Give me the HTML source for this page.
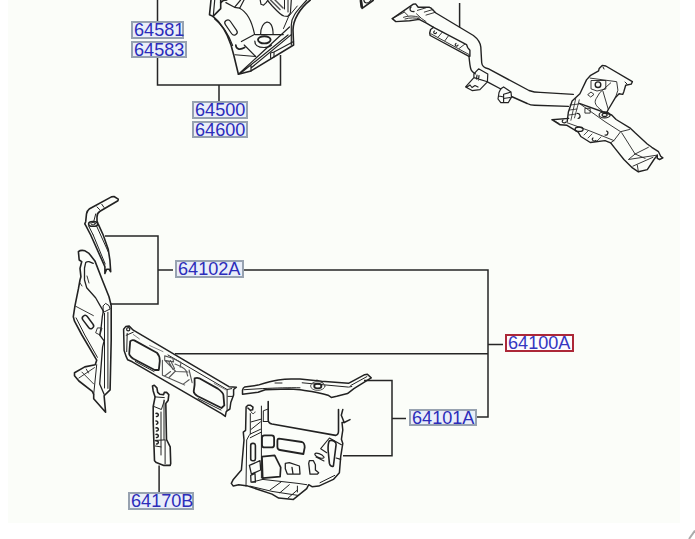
<!DOCTYPE html>
<html><head><meta charset="utf-8">
<style>
html,body{margin:0;padding:0;width:695px;height:539px;overflow:hidden;background:#fff;}
#bg{position:absolute;left:8px;top:0;width:672px;height:523px;background:#fbfdf9;}
svg{position:absolute;left:0;top:0;}
.lb{position:absolute;box-sizing:border-box;border:2px solid #97a2b0;background:#e9eef9;color:#2c2cba;font-family:"Liberation Sans",sans-serif;font-size:18.1px;line-height:15.5px;text-align:left;padding-left:1px;white-space:nowrap;}
.red{border:2px solid #ac2838;background:#fdfcfe;color:#3636c0;}
</style></head><body>
<div id="bg"></div>
<svg width="695" height="539" viewBox="0 0 695 539">
<g fill="none" stroke="#262626" stroke-width="1.5">
<!-- connectors -->
<path d="M157.5 0V21M157.5 57V85H158H280.5V55M219 85V101"/>
<path d="M105 236H158V304H110M158 270H173M244 270H488V417H477M175 353.8H488M488 344.5H503"/>
<path d="M364 380.4H392V455.7H343M392 418.4H406"/>
<path d="M159.1 465.4V492"/>
<path d="M459.6 3V27.4"/>
<path d="M695 530.5L689 539" stroke="#aaa" stroke-width="2"/>
</g>
<!-- PART A top center -->
<g fill="none" stroke="#222" stroke-width="1.6" stroke-linejoin="round" stroke-linecap="round">
<path d="M211,0 L209.5,14.7 L213,16.4 C220,22 226,30 231,45 L233.8,55.3 L238.4,74.3 L251,70.9 L293.6,45 L293,30 C293,20 300,8 310.3,0"/>
<path d="M214.7,0 L213.4,14.7" stroke-width="1.2"/>
<path d="M214.5,18.8 C221,24 228,33 232.6,45.5" stroke-width="1.2"/>
<path d="M220.7,0 V8.6 L213,16.4"/>
<path d="M220.7,2.6 Q223,0 226.8,0"/>
<path d="M225.9,2.6 L234.5,7.3 L239.7,8.2 M234.5,7.3 L240.6,0 M239.7,8.2 L244,0" stroke-width="1.2"/>
<path d="M239.7,8.2 C247,12 252,22 254.4,33.7" stroke-width="1.2"/>
<rect x="228" y="19" width="6" height="17" rx="3" transform="rotate(-35 231 27.5)" stroke-width="1.2"/>
<path d="M241.4,41.5 L254.4,34.5 L283.3,34.6" stroke-width="1.2"/>
<path d="M260.6,34.5 C260.6,20 273,16 273.1,34.5" stroke-width="1.2"/>
<ellipse cx="264.3" cy="39.8" rx="6.3" ry="3.6" stroke-width="1.9"/>
<path d="M254.8,41 C254.8,46 259,47.5 264,47.5 C268,47.5 270,46.5 271.5,45" stroke-width="1.2"/>
<path d="M235.8,45 C236,49 239.5,50.5 244.7,47.5" stroke-width="1.7"/>
<path d="M235,54.7 L255.7,56.5 L244.2,45" stroke-width="1.1"/>
<path d="M238.4,74.3 L289.5,27 M251,68 L291.3,34.6 M251,65.7 V70.9 M241.5,72.5 L288,35" stroke-width="1.2"/>
<path d="M274,51.9 L293.6,41.5 M270.6,53 V58 M270.6,53 L274,51.9 V57" stroke-width="1.1"/>
<path d="M306.8,0 C298,10 291.3,16 291.3,25 V45" stroke-width="1.2"/>
<path d="M297.3,6 L288.7,16.4 L283.5,28.5" stroke-width="1"/>
<path d="M260.2,0 L261,4.3 L263.6,5.2 L266.2,2.6 L268,0" stroke-width="1.2"/>
<path d="M268,1 L272.3,6 C276,10 280.9,15.5 284,16 L287.8,16.4 L290.4,13 L291.3,0" stroke-width="1.2"/>
<path d="M270.5,0 L280,9.5 M275,0 L283,8" stroke="#555" stroke-width="1.5"/>
<path d="M284.5,0 V9 M288,0 V12" stroke-width="1"/>
</g>
<!-- top small piece -->
<g fill="none" stroke="#222" stroke-width="1.7" stroke-linejoin="round">
<path d="M361,0 L362.1,8.4 L373.7,0"/>
<path d="M360.8,0 L361.8,7.5" stroke-width="2.6"/>
<path d="M363.8,0 Q364.2,3.2 367,3 Q369.5,2.6 371.2,0" stroke-width="1.2"/>
</g>
<!-- PART B crossmember -->
<g fill="none" stroke="#222" stroke-width="1.4" stroke-linejoin="round" stroke-linecap="round">
<path d="M392.3,18.6 L413,4.3 L415.6,3.9 L418.2,7.3 L429.5,7.3 L431.2,8.2 L435.9,13 L473.4,35.5 C478,39 480.3,42 480.8,47 L481.7,62.7 C482,66 485,68 488.2,68.7 L529,90.5 C533,92 537,92.4 540.2,92.4 L573.3,94.4"/>
<path d="M392.3,18.6 L395.8,21.6 L409.6,20.7 L419.1,19.4 L426,22.9 L433.6,27.3"/>
<path d="M393.2,18.1 L404.4,12.1 M404.4,12.1 L407.9,15.5 M417.4,10.4 L426,7.8 M416.5,13.8 L421.7,18.6 L426,21.6 M424.3,12.1 L432.9,9.5 M426,15.1 L434.6,12.5 M403.5,17.3 C408,15.5 414,15.5 419.1,17.3 M405,19 C410,17.5 415,17.5 420,19" stroke-width="0.9"/>
<path d="M411,7 C409,9 410,12 414,11.5" stroke-width="1.3"/>
<path d="M433.6,27.3 L466.5,44.6 L467.7,47.6 L469.9,50.2 L469.9,56.3 L469,56.3 L430.2,35.5 L429.7,33 L430.6,29.5 Z"/>
<path d="M431,33.8 L469,54.5 M438.4,36.8 L442.3,32.1 M444.9,40.7 L448.7,35.5 M459.1,48.5 L464.7,44.2" stroke-width="0.9"/>
<path d="M434.5,31 A1.4,1.4 0 1 0 436.5,32.5 M456,43.5 A1.4,1.4 0 1 0 458,45" stroke-width="1.2"/>
<path d="M469,56.3 C469.5,62 470,66 470.6,68.2 C471,71 473,72.5 475.3,73.8"/>
<path d="M473.9,73.9 L478.6,68.8 L487.8,73.9 L487.4,81.8 L479.9,89.7 L472.1,90.6 L465.6,86.9 L473.9,77.6 Z M473.9,77.6 L487.4,81.8 M477,75 L476.5,79 M479,75.5 L478.5,80 M467,87 L470,85 L472,87.5 L475,85.5 L478,87" stroke-width="1.2"/>
<path d="M487.4,81.8 L500.8,89 M511.5,96.5 L527.2,103.5 C530,105 532,105.3 534.6,105.3 L568.4,106.4"/>
<path d="M500.8,88.8 L503.6,86.9 L511,92 L511.5,97.1 L508.2,102.7 L500.8,102.7 L498,99 L499,92.5 Z M503.6,94.3 L511,92 M503.6,94.3 L503.6,101.5 M499,96 L503.6,97 M503.6,98.5 L510,97.5" stroke-width="1.2"/>
<!-- tower -->
<path d="M567.2,121.5 L568.4,111.9 L572.1,101 L579.9,93.8 L586.5,79.9 L590.2,75.7 L598.6,70.9 L599.2,68.4 L602.2,65.4 L605.8,66 L632.4,81.7 L631.2,84.1 L625.7,85.3 L623.9,91.4 L622.7,94.4 L619.1,93.8 L615.5,97.4 L608.3,109.5 L606.4,113.1"/>
<path d="M590.2,78.1 L616.7,81.7 L617.9,90.2 L615.5,97.4 M591.4,80.5 L605.8,80.5 L605.8,89 L597,91 L591.4,89 Z M610.7,82.9 L599.8,92.6 L596.2,98.6 C594,102 595,106 602.2,110.7 M603,91.4 L608.3,109.5" stroke-width="0.9"/>
<circle cx="598" cy="84.7" r="2.8" stroke-width="1.4"/>
<path d="M588,94.4 L591,92 L594,94.4 L591,96.8 Z M585.3,108.3 L590.2,108.3 L590.2,113.1 L585.3,113.1 Z" stroke-width="0.9"/>
<path d="M575.7,98.6 L570.9,120.3 M579.3,99.8 L574.5,117.9 M570,105 L579,104 M569.5,110 L577,109 M569,115 L576,114" stroke-width="0.8"/>
<path d="M603,67 L604,69 M625,82 L627,84" stroke-width="1"/>
<!-- duct -->
<path d="M551.9,119.7 L568.7,118.4 M551.9,119.7 L560.1,124.8 L567,125.3 L578.2,132.2 L580.8,136.5 L590.3,142.5 L605,140.6 L610.6,142.8 L615,148.4 L623.9,159.5 L631.7,167.3 L638.4,171.8 L647.3,169.6 L654,159.5 L657.3,155.1 M579.3,103.4 L611.7,115 L616.1,119.5 L630.6,128.4 L635.1,132.8 L647.3,144 L651.8,147.3 L658.5,151.7 L659.6,154 L660.7,156.2 L662.9,157.9 L659.6,159.5 L657.3,158.4 L657.3,155.1"/>
<path d="M553.2,120.1 L559.2,123.5 M567,122.7 L590,131 L605,137 L613.9,140.6 M579.3,103.4 L605,121.7 L620.6,131.7 L629.5,129.5 M620.6,131.7 L613.9,140.6 L610.6,142.8 M621.7,132.8 L635.1,154 L648.4,147.3 M635.1,154 L628.4,159.5 L657.3,155.1 M635.1,154 L645.1,158.4 M632.8,166.2 L652.9,157.3 M637.3,165.1 L638.4,171.8" stroke-width="0.9"/>
<ellipse cx="604.6" cy="114.9" rx="5.5" ry="3" stroke-width="1.2"/><ellipse cx="604.6" cy="114.9" rx="2.5" ry="1.5" stroke-width="1.2"/>
<ellipse cx="579.1" cy="129.2" rx="4" ry="2.2" stroke-width="1.4"/>
<path d="M606.5,131 A2,2 0 0 1 605,135 M563,120 A2,1.6 0 1 0 566,122 M577,113.5 A2,2 0 0 1 578,118.5 M593,138 A2,1.5 0 1 0 596,140.5" stroke-width="1.2"/>
<path d="M584,135 L588,131 M588,138 L592,134 M597,141 L601,137" stroke-width="0.8"/>
</g>
<!-- PART C upper pillar -->
<g fill="none" stroke="#222" stroke-width="1.5" stroke-linejoin="round" stroke-linecap="round">
<path d="M111.4,196.9 L114,196.5 L118.3,199.1 L117.9,200.8 L100,211.3 C98,212.5 97,214 97,217 L97,220.9 L97.9,223.5 L98.7,225.2 L103.2,235 L108.2,249.2 L109.9,260.1 L110.7,271.8 L109.1,269.3 L106.6,269.3 L104.9,273.4 L104.9,266.7 L90.7,235 L86.1,226.1 L84.8,223.9 L85.7,221.7 L86.5,213.9 C87,211 88,210 89.6,208.7 Z" stroke-width="1.6"/>
<path d="M93.2,235 L105.2,264 M96.6,226.1 L108.2,251.7 M88.7,226.1 L93.2,235 M95.7,213.9 L93.9,220.9 M97,206.9 L99.6,209.6 M101.8,204.3 L104,207.4" stroke-width="1"/>
<ellipse cx="93.1" cy="223.9" rx="4.5" ry="2.4" stroke-width="1.6"/>
<ellipse cx="93.1" cy="223.7" rx="2.2" ry="1.2" stroke-width="1"/>
</g>
<!-- PART D lower pillar -->
<g fill="none" stroke="#222" stroke-width="1.5" stroke-linejoin="round" stroke-linecap="round">
<path d="M78.4,251.7 C80,250.3 83,250.3 85,250.8 L89,253.4 L94.9,260.9 L102.3,280 L109,296.7 L111.2,305.6 L111.2,340 L110.1,389.9 L104.1,395.8 L105.6,412.2 L93.7,398.8 L93.7,394.3 L92.3,391.4 L78.9,381 L74.5,375.8 L74.5,372.8 L84.8,366.9 L95.2,364.7 L96.7,360.2 L81.9,335 L74.5,321.2 L73.3,316.7 L75,305.6 L78.4,288.9 L80,280 L80.9,276.7 L80,268.4 L81.7,261.7 L79.2,260 Z" stroke-width="1.6"/>
<path d="M85.7,262.6 C87,261.5 88,261.5 89,261.7 L93.2,263.4 M85.7,262.6 L84.5,268 L84.5,280 L86.7,287.8 L95.6,297.8 L100.1,305.6 L103.4,311.2 L102.3,316.7 L101.2,326.8 L99.7,335 L104.1,340.9 L102.6,346.9 L99.7,384 L104.1,394.3" stroke-width="1.3"/>
<path d="M76.1,317.9 L84.8,335 L97.4,357.3 M96.7,364.7 L93.7,394.3 M104.5,313.4 V388 M107.9,312.3 V388.4 M103.4,305.6 L105.6,303.4 L109,305.6 L110.1,309 L103.4,312.3 Z" stroke-width="1"/>
<path d="M75.6,306.2 L93.4,315.6 M78.9,378 L94.5,367.6 M81.9,372.1 L93.7,384 M86.3,369.1 L88.5,373 M80,283 L82,286 M87,276 L89,283" stroke-width="0.9"/>
<rect x="85.2" y="314.5" width="5.5" height="15" rx="2.7" transform="rotate(-37 88 322)" stroke-width="1.5"/>
<path d="M97.8,327.9 L102,328 L100,335 L96,333 Z" stroke-width="0.9"/>
</g>
<!-- PART E center panel -->
<g fill="none" stroke="#222" stroke-width="1.5" stroke-linejoin="round" stroke-linecap="round">
<path d="M123.6,329.2 L125.7,326.6 L129.2,326.1 L133.3,330.2 L229,386.7 L236.4,387.2 L233.6,389.5 L233.6,395 L230.8,402.5 L229.9,409 L227.1,410.8 L226.2,411.7 L225.3,416.4 L221.5,413.6 L132.3,361.8 L127.7,359.8 L126.2,356.7 L124.1,350.6 Z"/>
<path d="M168,355 L227.1,389.5 L231.7,388.6 M227.1,389.5 V410.8 M228,396.4 H232.7 M127.2,333.3 L126.7,351.6 M126.2,335.3 L133.3,332.2" stroke-width="1"/>
<circle cx="128.2" cy="329.2" r="1.6" stroke-width="1.2"/>
<path d="M130.2,341.4 C131,340.5 133,340 134.3,340.4 L156.8,352.7 C159,355 159.8,357 159.8,360.8 L158.8,370 L154.7,370 L133.3,358.8 C131,357 129.2,355.5 129.2,353.7 Z" stroke-width="1.8"/>
<path d="M135.3,361.5 L154,371.5" stroke-width="1"/>
<path d="M194.6,378.3 C196,377.8 198,377.8 199.3,378.3 L217.8,388.6 C221,391 223.4,393 223.4,395 L224.3,405.3 L221.5,408 L197.4,396 C195,394.5 193.7,393 193.7,391.3 L194.6,384.8 Z" stroke-width="1.8"/>
<path d="M198,398.5 L221,410" stroke-width="1"/>
<path d="M139.4,338.9 L133.3,334.5 M149.6,345.5 L163,351.6 M214.1,383.5 L226,390" stroke="#777" stroke-width="0.9"/>
<path d="M164.7,355.9 L172.8,358.2 L173.6,361.9 L164.7,360.4 Z M174.3,358.9 L181,362.6 L180.2,367.1 M162.4,360.4 L162.4,375.2 L184.7,384.9 M189.1,370 L192.1,382.7 M164.7,376 L170.6,371.5 M169.1,377.5 L175,371.5 M183.2,384.1 L189.1,379.7 M164.7,360.4 L175.8,371.5 L188,372 M175,364.1 C180,366 184,368 186.2,370.8 L187.7,376 M168.4,361.1 L172.8,369.3 M170.5,360.5 L174.5,368.5" stroke-width="1.1" stroke="#555"/>
</g>
<!-- PART F bracket 64170B -->
<g fill="none" stroke="#222" stroke-width="1.5" stroke-linejoin="round" stroke-linecap="round">
<path d="M152.5,386.1 L154.3,385.3 L156.9,387.9 L157.7,392.4 L159.9,394.3 L163.6,394.6 L164.3,392.4 L166.6,392.4 L168.8,394.6 L168.1,400.6 L165.8,403.5 L166.5,439.5 L170.2,446.9 L170.7,463.6 L170.2,465.4 L163.8,465.4 L156.3,462.6 L154.5,460.8 L153.2,422 L153.2,406.5 L155.1,396.9 L153.2,390.9 Z" stroke-width="1.6"/>
<path d="M155.1,396.9 L164.3,397.6 M153.9,406.5 L161.4,409.5 L164.3,400.6 M164,400 V439.5 M165.1,440.4 V463.6 M155,440.4 L165.1,439.9 M155.4,446 L161,446.9 M161,412 V455" stroke-width="1"/>
<path d="M156,413.5 A1.6,1.6 0 1 1 156.5,416.5 M156,421 A1.6,1.6 0 1 1 156.5,424.2 M156,428 A1.6,1.6 0 1 1 156.5,431 M156,434.5 A1.6,1.6 0 1 1 156.5,437.5 M156,441 A1.6,1.6 0 1 1 156.5,444" stroke-width="1.5"/>
</g>
<!-- PART G bottom bar -->
<g fill="none" stroke="#222" stroke-width="1.5" stroke-linejoin="round" stroke-linecap="round">
<path d="M242.5,390.2 C243,388 243.5,387.5 244.5,387.1 L258.1,385.1 C265,383 272,381 278.3,380.1 C285,379 290,379 293.4,379.1 L300,379 L321.6,381.2 L348.5,383.3 L364.7,374.7 L367.4,374.2 L371.2,377.9 L353.9,388.7 L347.5,393.6 L336.7,396.3 L331.3,397.4 L328,395.2 C318,392 308,391 300,389.8 C295,389.3 292,389.1 288.4,389.1 L265.2,389.7 L258.1,392.2 L242.5,394.2 Z"/>
<path d="M244,389.7 L262.2,388.6 C275,388 290,387.5 300,387.8 M302.2,382.8 L348.5,387.1 L351.8,386.5 M350.7,385.5 L366.9,376.6 M275,383 L282,383 M317,380 L323,383" stroke-width="1"/>
<ellipse cx="317.8" cy="386" rx="7.2" ry="4.4" stroke-width="1" stroke="#555"/>
<ellipse cx="317.8" cy="386" rx="3.6" ry="2.4" stroke-width="1.8"/>
</g>
<!-- PART H bottom panel -->
<g fill="none" stroke="#222" stroke-width="1.5" stroke-linejoin="round" stroke-linecap="round">
<path d="M246.1,407.1 L247.9,405.2 L250.3,405.2 L253,407.1 L252.6,409.8 L250.3,410.3 L247.9,408 M246.1,407.1 L245.6,430.3 L243.3,432.1 L244,440 L241.4,470 L233.3,479.4 L231.3,483.4 L233.3,486.1 L238.7,484.7 L248,486.1 L272,494.1 L278.7,498.1 L293.4,499.4 L306.7,488.7 L308.7,484.7 L312,486.7 L318.7,486.1 L333.4,479.4 L339.4,472.7 L340.7,456.7 L342.8,443.4 L341.4,439.3 L342.8,430 L342,422.5 L344.2,422.5 L341.3,415.3 L342.8,409.5"/>
<path d="M344.2,422.5 L350,419.6"/>
<path d="M268.2,401.6 V420 Q268.2,423.2 272,424 L335.6,435.4 Q338.5,435 338.5,431.1 V409.5" stroke-width="1.6"/>
<path d="M261.4,406.1 V478 M250.3,413.6 L250.3,434 L248.9,435.8 L246.7,440 L246,486.1 M263.3,421.5 V410.8 L268.2,409 M263.3,421.5 L268.2,421.5 M251.2,421.9 L261.4,419.1 M251.2,429.3 L260.5,421.9 M250.3,434 L260.5,429.3 M250.3,437.7 L261.4,432.1 M251,411.7 C252,414 254,414.5 255,412" stroke-width="1"/>
<rect x="250.7" y="443.4" width="4.7" height="17.3" rx="2" stroke-width="1.6"/>
<path d="M249.4,465.4 L260,460.7 L260.7,470 L251.4,474.1 Z M250.7,475.4 L255,473.5 L255.4,482.1 L251,482 Z" stroke-width="1.3"/>
<rect x="262" y="435.3" width="12.1" height="12.1" rx="2.5" stroke-width="1.8"/>
<path d="M279,438.7 L302,442 Q304.7,443 304.7,447.4 L303.4,454 L280,450 Q277.4,449.5 277.4,447 V441 Q277.4,438.7 279,438.7 Z" stroke-width="1.8"/>
<path d="M262,456.7 L274.7,455.4 L280.7,467.4 L280.1,476.7 L262.7,478.1 Z" stroke-width="1.7"/>
<path d="M285.3,463.4 L289.3,462.7 L299.4,466 L300,474.1 L287.3,474.1 L285.3,468.7 Z M292,467.4 L293,474" stroke-width="1.3"/>
<path d="M309.4,460.7 L313.4,460.7 L315.4,464.7 L315.4,470 L318.7,472.7 L317.4,474.1 L310,474.1 L308.7,463.4 Z" stroke-width="1.3"/>
<path d="M329.4,440.7 C333,439.5 336.5,442 336.1,444.7 L333.4,466 C332,467 330,466 329.4,463.4 L328.1,450 C328,446 328.5,442 329.4,440.7 Z" stroke-width="1.6"/>
<path d="M320.7,448.7 L329.4,438 L341.4,444.7 M320.7,448.7 L326.7,452.7 M336.1,458 L340.7,459.4 M314.7,454 C316,452 322,454 324,457 C325,459.5 316,458 314.7,454 Z M316,457 L324,461" stroke-width="1.1"/>
<path d="M262.7,479.4 L298,483.4 L306.7,484.7 M252,482.1 L262.7,479.4 M250,486.1 L272,491.4 L298,495.4 M280,492.7 L289.3,484.7 M288,498.1 L297.4,490 M297.4,486.1 V492 M320,482.7 L334.7,475.4 M270,490 L281,482" stroke-width="1"/>
</g>
</svg>
<div class="lb" style="left:131px;top:21px;width:53px;height:18px;">64581</div>
<div class="lb" style="left:131px;top:41px;width:56px;height:17px;">64583</div>
<div class="lb" style="left:192px;top:101px;width:56px;height:18px;">64500</div>
<div class="lb" style="left:192px;top:121px;width:56px;height:17px;">64600</div>
<div class="lb" style="left:175px;top:260px;width:69px;height:18px;">64102A</div>
<div class="lb red" style="left:505px;top:334px;width:69px;height:18px;">64100A</div>
<div class="lb" style="left:409px;top:409px;width:68px;height:17px;">64101A</div>
<div class="lb" style="left:128px;top:492px;width:66px;height:18px;">64170B</div>
</body></html>
